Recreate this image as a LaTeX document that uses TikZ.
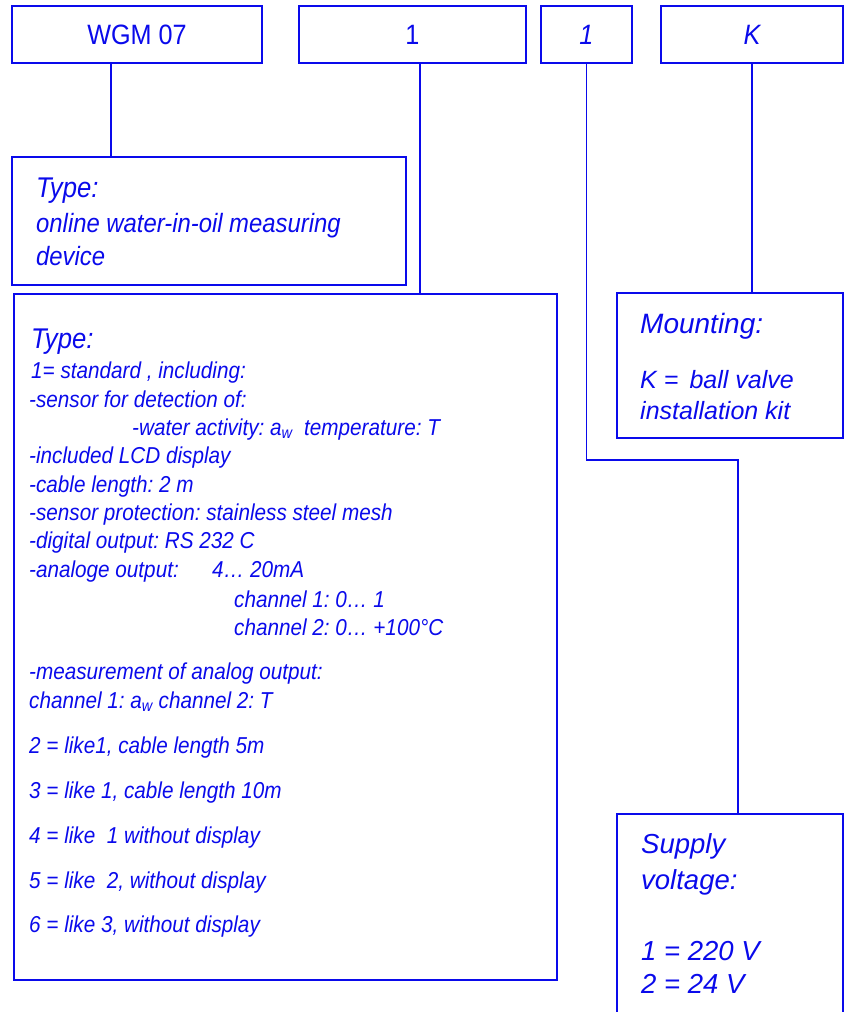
\documentclass[tikz,border=0pt]{standalone}
\usepackage{fontspec}
\newfontfamily\fa{Liberation Sans}[FakeStretch=0.9]
\newfontfamily\fb{Liberation Sans}
\definecolor{bl}{RGB}{10,10,235}
\frenchspacing
\begin{document}
\begin{tikzpicture}[x=1pt,y=-1pt,
  box/.style={draw=bl, line width=1.8pt, inner sep=0pt, text=bl},
  conn/.style={draw=bl, line width=1.8pt},
  txt/.style={text=bl, anchor=base west, inner sep=0pt},
  bt/.style={txt, font=\fa\itshape\fontsize{23}{28}\selectfont},
  bh/.style={txt, font=\fa\itshape\fontsize{28.5}{34}\selectfont},
  tt/.style={txt, font=\fa\itshape\fontsize{26.5}{32}\selectfont},
  mh/.style={txt, font=\fb\itshape\fontsize{28}{34}\selectfont},
  mt/.style={txt, font=\fb\itshape\fontsize{25}{30}\selectfont},
  st/.style={txt, font=\fb\itshape\fontsize{27.5}{33}\selectfont},
  topup/.style={box, font=\fa\fontsize{28}{34}\selectfont},
  topit/.style={box, font=\fa\itshape\fontsize{28}{34}\selectfont}
]
\useasboundingbox (0,0) rectangle (844,1012);
\clip (0,0) rectangle (844,1012);

% top code boxes
\node[topup, minimum width=250pt, minimum height=57pt] (b1) at (137,34.5) {WGM 07};
\node[topup, minimum width=227pt, minimum height=57pt] (b2) at (412.5,34.5) {1};
\node[topit, minimum width=91pt, minimum height=57pt] (b3) at (586.5,34.5) {1};
\node[topit, minimum width=182pt, minimum height=57pt] (b4) at (752,34.5) {K};

% description boxes
\node[box, minimum width=394pt, minimum height=128pt] (tb) at (209,221) {};
\node[box, minimum width=543pt, minimum height=686pt] (big) at (285.5,637) {};
\node[box, minimum width=226pt, minimum height=145pt] (mb) at (730,365.5) {};
\node[box, minimum width=226pt, minimum height=226pt] (sb) at (730,927) {};

% connectors
\draw[conn] ([xshift=-26pt]b1.south) -- ([xshift=-26pt]b1.south |- tb.north);
\draw[conn] ([xshift=7.5pt]b2.south) -- ([xshift=7.5pt]b2.south |- big.north);
\coordinate (bend) at (738,460);
\draw[conn] (b3.south) |- (bend) -- (bend |- sb.north);
\draw[conn] (b4.south) -- (b4.south |- mb.north);

% type box text
\node[bh] (ta) at (36,197) {Type:};
\node[tt] (tb1) at (36,232) {online water-in-oil measuring};
\node[tt] (tb2) at (36,265) {device};

% big box text
\node[bh] (t0) at (31,348) {Type:};
\node[bt] (t1) at (31,378) {1= standard , including:};
\node[bt] (t2) at (29,407) {-sensor for detection of:};
\node[bt] (t3) at (132,435) {-water activity: a\textsubscript{w}\ \ temperature: T};
\node[bt] (t4) at (29,463) {-included LCD display};
\node[bt] (t5) at (29,492) {-cable length: 2 m};
\node[bt] (t6) at (29,520) {-sensor protection: stainless steel mesh};
\node[bt] (t7) at (29,548) {-digital output: RS 232 C};
\node[bt] (t8) at (29,577) {\makebox[183pt][l]{-analoge output:}4… 20mA};
\node[bt] (t9) at (234,607) {channel 1: 0… 1};
\node[bt] (t10) at (234,635) {channel 2: 0… +100°C};
\node[bt] (t11) at (29,679) {-measurement of analog output:};
\node[bt] (t12) at (29,708) {channel 1: a\textsubscript{w} channel 2: T};
\node[bt] (t13) at (29,753) {2 = like1, cable length 5m};
\node[bt] (t14) at (29,798) {3 = like 1, cable length 10m};
\node[bt] (t15) at (29,843) {4 = like\ \ 1 without display};
\node[bt] (t16) at (29,888) {5 = like\ \ 2, without display};
\node[bt] (t17) at (29,932) {6 = like 3, without display};

% mounting box text
\node[mh] (m1) at (640,333) {Mounting:};
\node[mt] (m2) at (640,388) {K = \,ball valve};
\node[mt] (m3) at (640,419) {installation kit};

% supply box text
\node[st] (s1) at (641,853) {Supply};
\node[st] (s2) at (641,889) {voltage:};
\node[st] (s3) at (641,960) {1 = 220 V};
\node[st] (s4) at (641,993) {2 = 24 V};
\end{tikzpicture}
\end{document}
